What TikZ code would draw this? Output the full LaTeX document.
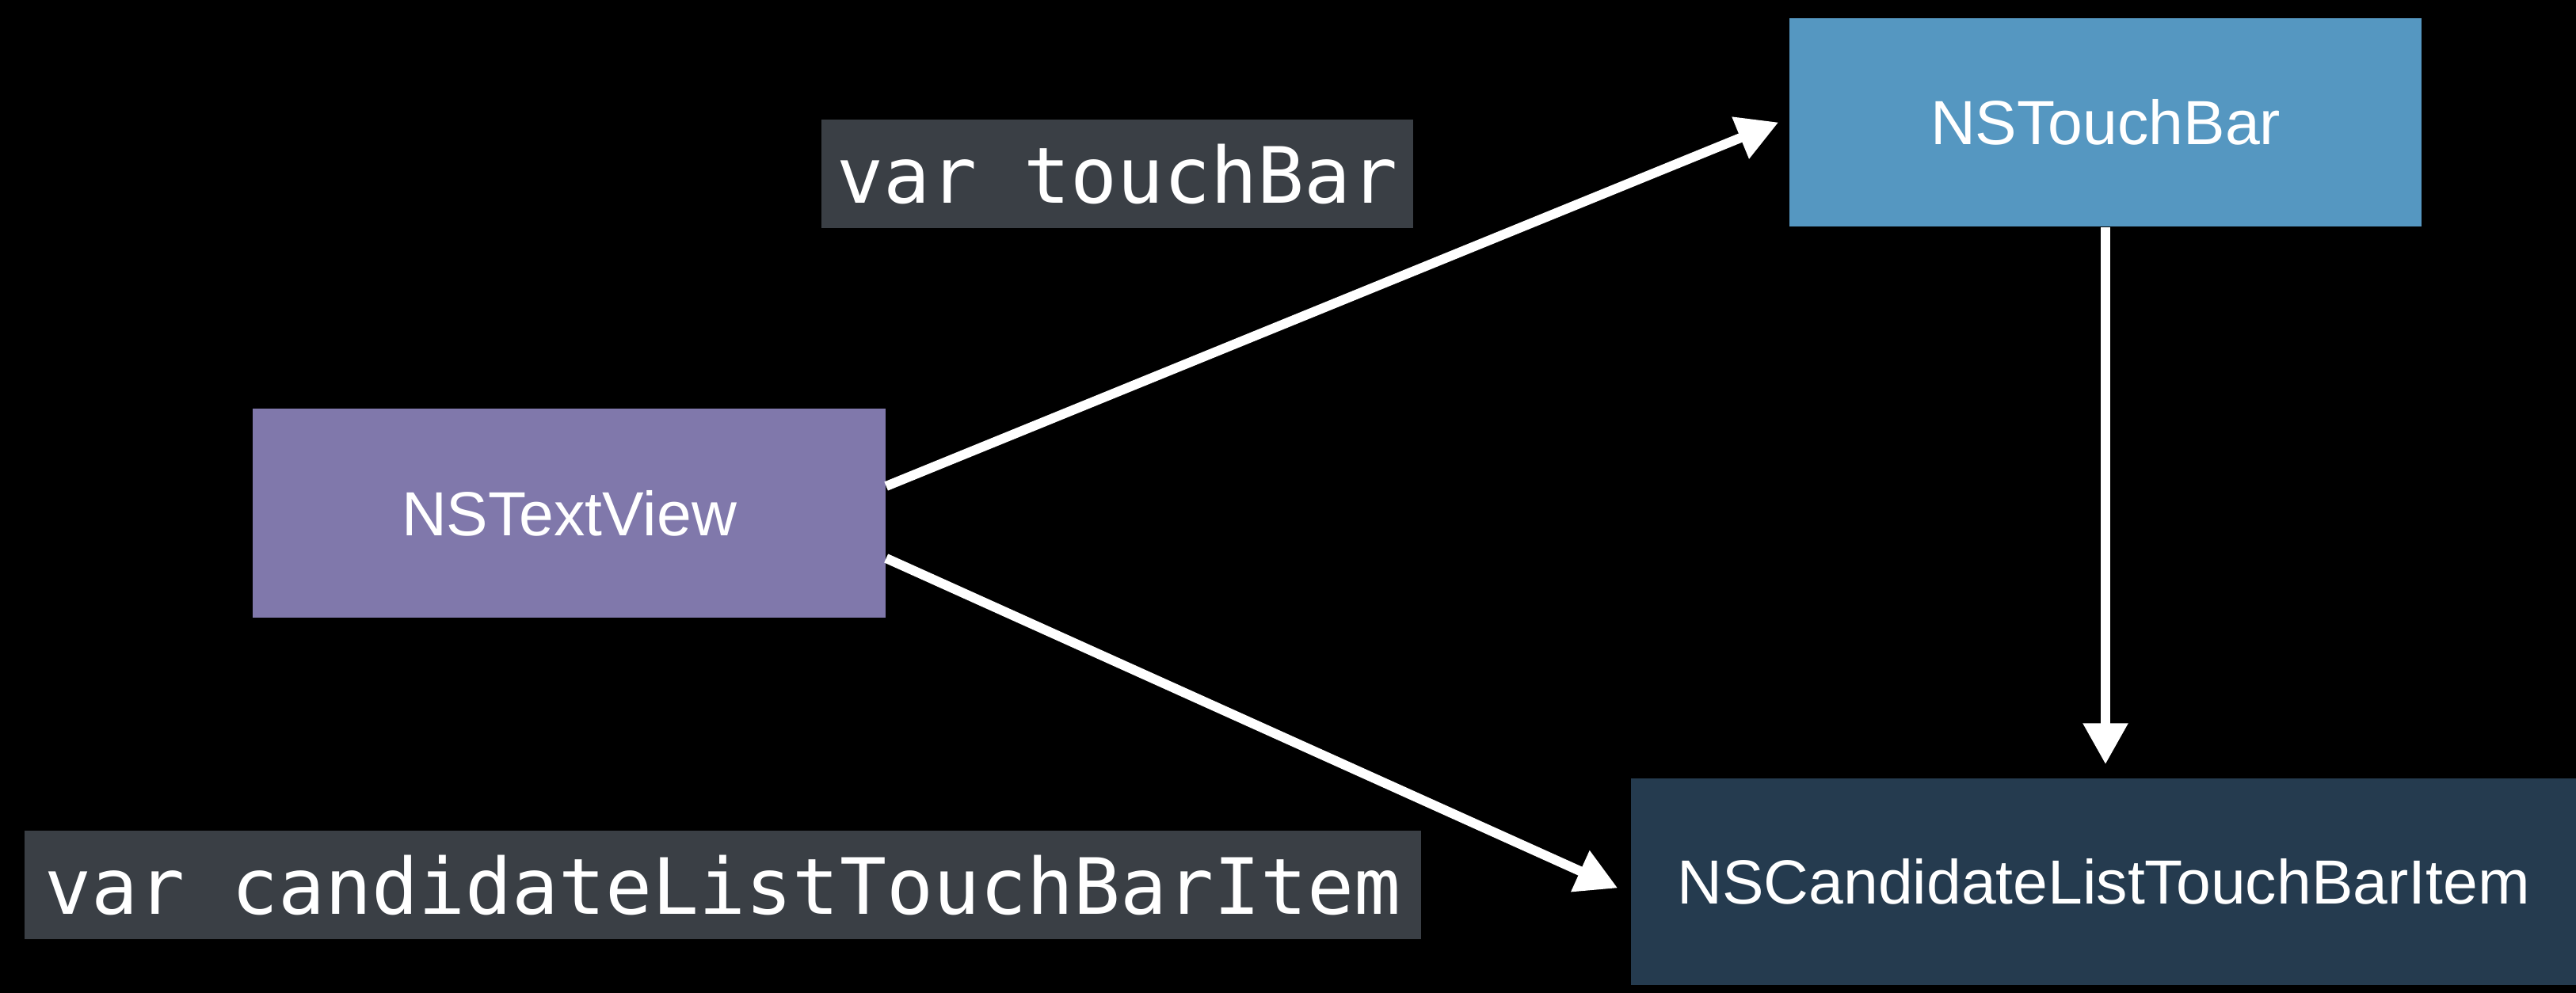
\documentclass[tikz,border=0pt]{standalone}
\usepackage{fontspec}
\setmainfont{Liberation Sans}
\setmonofont{DejaVu Sans Mono}
\usepackage{tikz}
\usetikzlibrary{calc}
\usetikzlibrary{arrows.meta}

\definecolor{barblue}{HTML}{5597C1}
\definecolor{viewpurple}{HTML}{8078AB}
\definecolor{itemnavy}{HTML}{253B4F}
\definecolor{codegray}{HTML}{3A3F45}

\tikzset{
    classbox/.style={rectangle, inner sep=0pt, text=white, font=\fontsize{22.4pt}{26pt}\selectfont},
    codebox/.style={rectangle, inner sep=0pt, fill=codegray, text=white, minimum height=1.37cm, font=\ttfamily\fontsize{27.9pt}{32pt}\selectfont},
    link/.style={white, line width=0.12cm, -{Triangle[width=0.54cm, length=0.52cm]}}
}

\begin{document}
\begin{tikzpicture}
        %LATAR
        \fill[black] (0,0) rectangle (32.52,12.54);
        \useasboundingbox (0,0) rectangle (32.52,12.54);
        %KOTAK
        \node[classbox, fill=viewpurple, minimum width=7.99cm, minimum height=2.64cm] (tv) at (7.185,6.06) {NSTextView};
        \node[classbox, fill=barblue, minimum width=7.98cm, minimum height=2.63cm] (tb) at (26.58,10.995) {NSTouchBar};
        \node[classbox, fill=itemnavy, minimum width=11.93cm, minimum height=2.61cm] (cand) at (26.555,1.405) {NSCandidateListTouchBarItem};
        %LABEL
        \node[codebox, minimum width=7.47cm] (lbar) at (14.105,10.345) {var touchBar};
        \node[codebox, minimum width=17.63cm] (lcand) at (9.125,1.365) {var candidateListTouchBarItem};
        %PANAH
        \draw[link] ([yshift=0.34cm]tv.east) -- ([xshift=-0.13cm]tb.west);
        \draw[link] ([yshift=-0.57cm]tv.east) -- ([xshift=-0.16cm, yshift=-0.08cm]cand.west);
        \draw[link, shorten >=0.17cm] (tb.south) -- (tb.south |- cand.north);
    \end{tikzpicture}
\end{document}
